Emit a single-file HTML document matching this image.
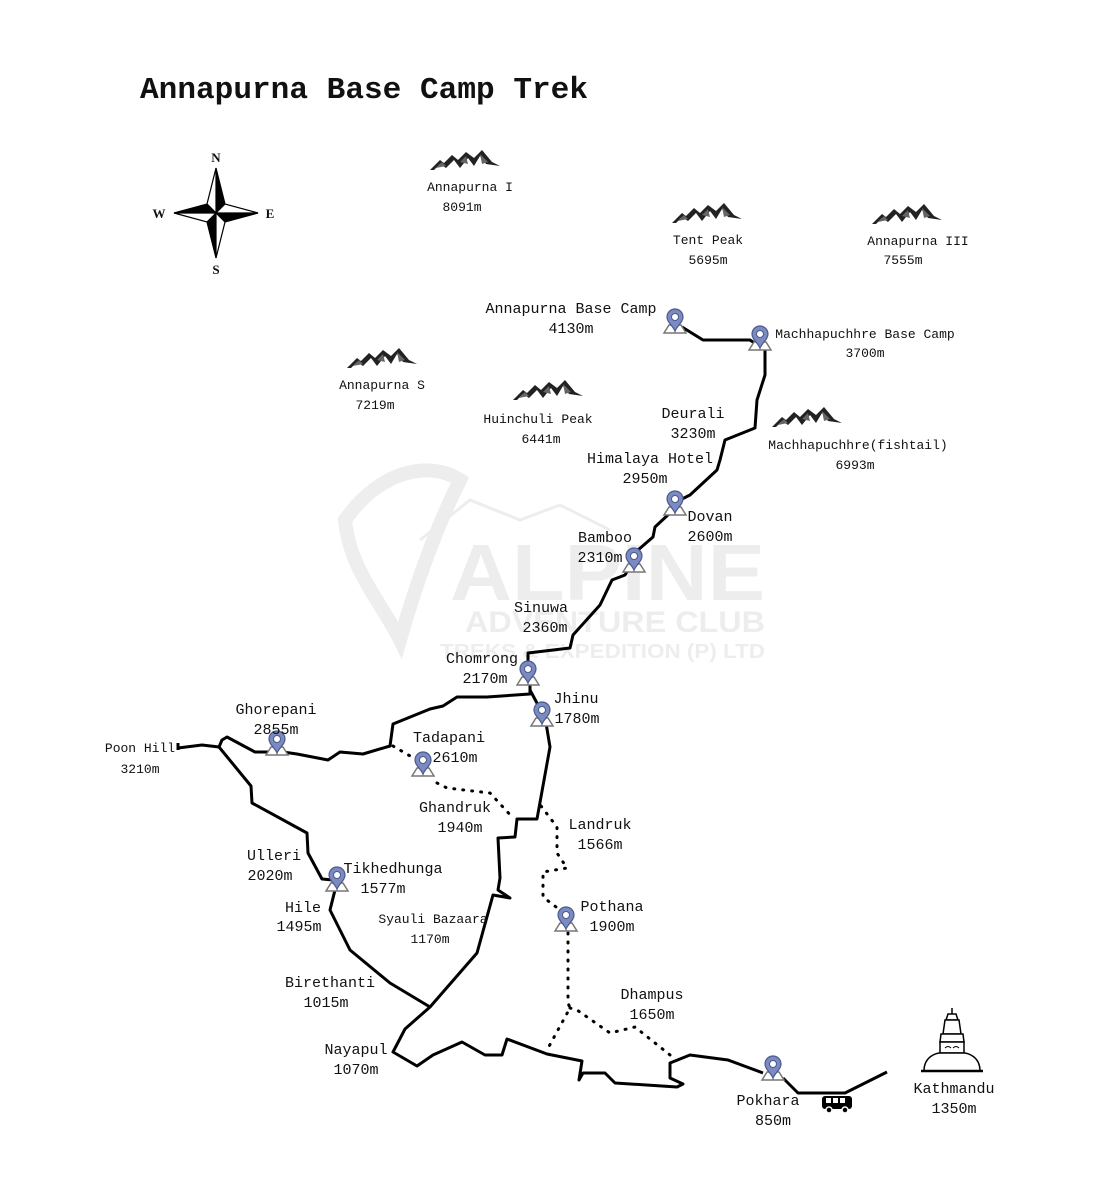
<!DOCTYPE html>
<html><head><meta charset="utf-8"><style>
html,body{margin:0;padding:0;background:#fff;}
svg{display:block;}
text{font-family:"Liberation Mono","DejaVu Sans Mono",monospace;fill:#111;}
.l{font-size:15px;text-anchor:middle;}
.s{font-size:13px;text-anchor:middle;}
</style></head><body>
<svg width="1100" height="1200" viewBox="0 0 1100 1200" xmlns="http://www.w3.org/2000/svg">
<defs>
<g id="pin">
<path d="M-11,12 L-6,4 L6,4 L11,12 Z" fill="#fff" stroke="#777" stroke-width="1.5"/>
<line x1="0" y1="4" x2="0" y2="12" stroke="#777" stroke-width="1.2"/>
<path d="M0,10 C-3,4 -8,1 -8,-4 A8,8 0 1 1 8,-4 C8,1 3,4 0,10 Z" fill="#7b8ac0" stroke="#4a5a8c" stroke-width="1.2"/>
<circle cx="0" cy="-4" r="3.5" fill="#fff" stroke="#4a5a8c" stroke-width="1"/>
</g>
<g id="mtn">
<path d="M0,20 L10,10 L14,13 L22,5 L28,10 L36,2 L44,8 L52,0 L62,12 L70,16 L56,14 L50,6 L44,16 L38,8 L30,18 L24,10 L16,18 L10,14 L4,20 Z" fill="#222"/>
<path d="M6,18 L12,12 L16,16 Z M30,12 L36,6 L38,14 Z M50,4 L58,12 L52,14 Z" fill="#666"/>
</g>
</defs>

<!-- watermark -->
<g opacity="0.09">
<path d="M345,520 C380,470 430,460 460,480 C440,520 420,570 400,640 C380,600 350,570 345,520 Z" fill="none" stroke="#444" stroke-width="14"/>
<path d="M420,540 L470,500 L520,520 L560,505 L610,530" fill="none" stroke="#444" stroke-width="3"/>
<text x="450" y="600" textLength="315" lengthAdjust="spacingAndGlyphs" style="font-family:'Liberation Sans',sans-serif;font-weight:bold;font-size:80px;fill:#444">ALPINE</text>
<text x="465" y="632" textLength="300" lengthAdjust="spacingAndGlyphs" style="font-family:'Liberation Sans',sans-serif;font-weight:bold;font-size:30px;fill:#444">ADVENTURE CLUB</text>
<text x="440" y="658" textLength="325" lengthAdjust="spacingAndGlyphs" style="font-family:'Liberation Sans',sans-serif;font-weight:bold;font-size:20px;fill:#444">TREKS &amp; EXPEDITION (P) LTD</text>
</g>

<text x="140" y="98" textLength="448" lengthAdjust="spacingAndGlyphs" style="font-size:31px;font-weight:bold;">Annapurna Base Camp Trek</text>

<!-- compass -->
<g transform="translate(216,213)" stroke="#000" stroke-width="1.2">
<path d="M0,-45 L9,-9 L0,0 Z" fill="#000"/><path d="M0,-45 L-9,-9 L0,0 Z" fill="#fff"/>
<path d="M42,0 L9,9 L0,0 Z" fill="#000"/><path d="M42,0 L9,-9 L0,0 Z" fill="#fff"/>
<path d="M0,45 L-9,9 L0,0 Z" fill="#000"/><path d="M0,45 L9,9 L0,0 Z" fill="#fff"/>
<path d="M-42,0 L-9,-9 L0,0 Z" fill="#000"/><path d="M-42,0 L-9,9 L0,0 Z" fill="#fff"/>
</g>
<g style="font-weight:bold;font-size:13px;" text-anchor="middle">
<text x="216" y="162" style="font-family:'Liberation Serif',serif">N</text>
<text x="216" y="274" style="font-family:'Liberation Serif',serif">S</text>
<text x="159" y="218" style="font-family:'Liberation Serif',serif">W</text>
<text x="270" y="218" style="font-family:'Liberation Serif',serif">E</text>
</g>

<!-- mountains -->
<use href="#mtn" x="430" y="150"/>
<use href="#mtn" x="672" y="203"/>
<use href="#mtn" x="872" y="204"/>
<use href="#mtn" x="347" y="348"/>
<use href="#mtn" x="513" y="380"/>
<use href="#mtn" x="772" y="407"/>

<!-- routes -->
<g fill="none" stroke="#000" stroke-width="3" stroke-linejoin="round">
<polyline points="682,327 703,340 750,340 765,350 765,375 757,400 755,428 725,440 720,460 717,470 690,495 680,500"/>
<polyline points="670,513 655,527 653,537 638,550 634,560 625,575 612,580 600,605 573,635 570,648 528,653 528,668"/>
<polyline points="530,684 530,694 487,697 457,697 443,706 430,709 393,724 390,746 363,754 340,752 328,760 297,754 283,752 255,752 227,737 222,740 219,747 202,745 178,748"/>
<polyline points="530,690 538,705"/>
<polyline points="219,747 251,786 252,803 307,833 308,853 322,879 333,880"/>
<polyline points="335,890 330,910 350,950 390,983 430,1007 405,1029 393,1052 417,1066 433,1055 462,1042 485,1055 502,1055 507,1039 547,1054 582,1061 579,1080 583,1073 605,1073 615,1083 677,1087 683,1084 670,1078 670,1063 690,1055 728,1060 763,1073"/>
<polyline points="783,1078 798,1093 845,1093 887,1072"/>
<polyline points="430,1007 477,953 493,895 510,898 498,890 500,878 498,838 515,837 517,819 537,819 550,747 546,723"/>
</g>
<line x1="178" y1="743" x2="178" y2="750" stroke="#000" stroke-width="3"/>
<g fill="none" stroke="#000" stroke-width="3" stroke-dasharray="1 8" stroke-linecap="round">
<polyline points="393,746 417,760"/>
<polyline points="437,783 447,788 490,793 513,818"/>
<polyline points="541,806 557,827 557,853 567,868 543,872 543,897 560,910"/>
<polyline points="568,933 568,1003 570,1008 547,1050"/>
<polyline points="570,1008 577,1010 610,1033 635,1027 670,1055"/>
</g>

<!-- pins -->
<use href="#pin" x="675" y="321"/>
<use href="#pin" x="760" y="338"/>
<use href="#pin" x="675" y="503"/>
<use href="#pin" x="634" y="560"/>
<use href="#pin" x="528" y="673"/>
<use href="#pin" x="542" y="714"/>
<use href="#pin" x="277" y="743"/>
<use href="#pin" x="423" y="764"/>
<use href="#pin" x="337" y="879"/>
<use href="#pin" x="566" y="919"/>
<use href="#pin" x="773" y="1068"/>

<!-- bus -->
<g transform="translate(822,1096)">
<rect x="0" y="0" width="30" height="13" rx="3" fill="#000"/>
<rect x="4" y="2" width="5" height="5" fill="#fff"/><rect x="11" y="2" width="5" height="5" fill="#fff"/><rect x="18" y="2" width="5" height="5" fill="#fff"/>
<circle cx="7" cy="14" r="3" fill="#000" stroke="#fff" stroke-width="1.5"/><circle cx="23" cy="14" r="3" fill="#000" stroke="#fff" stroke-width="1.5"/>
</g>

<!-- stupa -->
<g transform="translate(952,1008)" stroke="#000" fill="#fff" stroke-width="1.5">
<line x1="0" y1="0" x2="0" y2="6"/>
<path d="M-4,6 L4,6 L6,12 L-6,12 Z"/>
<path d="M-7,12 L7,12 L9,26 L-9,26 Z"/>
<path d="M-11,26 L11,26 L12,34 L-12,34 Z"/>
<rect x="-12" y="34" width="24" height="11"/>
<path d="M-7,40 Q-4,37 -1,40 M1,40 Q4,37 7,40" stroke-width="1"/>
<path d="M-28,63 C-28,48 -15,45 -12,45 L12,45 C15,45 28,48 28,63 Z"/>
<line x1="-31" y1="63" x2="31" y2="63" stroke-width="2.5"/>
</g>

<!-- labels -->
<text class="s" x="470" y="191">Annapurna I</text><text class="s" x="462" y="211">8091m</text>
<text class="s" x="708" y="244">Tent Peak</text><text class="s" x="708" y="264">5695m</text>
<text class="s" x="918" y="245">Annapurna III</text><text class="s" x="903" y="264">7555m</text>
<text class="s" x="382" y="389">Annapurna S</text><text class="s" x="375" y="409">7219m</text>
<text class="s" x="538" y="423">Huinchuli Peak</text><text class="s" x="541" y="443">6441m</text>
<text class="s" x="858" y="449">Machhapuchhre(fishtail)</text><text class="s" x="855" y="469">6993m</text>
<text class="l" x="571" y="313">Annapurna Base Camp</text><text class="l" x="571" y="333">4130m</text>
<text class="s" x="865" y="338">Machhapuchhre Base Camp</text><text class="s" x="865" y="357">3700m</text>
<text class="l" x="693" y="418">Deurali</text><text class="l" x="693" y="438">3230m</text>
<text class="l" x="650" y="463">Himalaya Hotel</text><text class="l" x="645" y="483">2950m</text>
<text class="l" x="710" y="521">Dovan</text><text class="l" x="710" y="541">2600m</text>
<text class="l" x="605" y="542">Bamboo</text><text class="l" x="600" y="562">2310m</text>
<text class="l" x="541" y="612">Sinuwa</text><text class="l" x="545" y="632">2360m</text>
<text class="l" x="482" y="663">Chomrong</text><text class="l" x="485" y="683">2170m</text>
<text class="l" x="576" y="703">Jhinu</text><text class="l" x="577" y="723">1780m</text>
<text class="l" x="276" y="714">Ghorepani</text><text class="l" x="276" y="734">2855m</text>
<text class="s" x="140" y="752">Poon Hill</text><text class="s" x="140" y="773">3210m</text>
<text class="l" x="449" y="742">Tadapani</text><text class="l" x="455" y="762">2610m</text>
<text class="l" x="455" y="812">Ghandruk</text><text class="l" x="460" y="832">1940m</text>
<text class="l" x="600" y="829">Landruk</text><text class="l" x="600" y="849">1566m</text>
<text class="l" x="274" y="860">Ulleri</text><text class="l" x="270" y="880">2020m</text>
<text class="l" x="393" y="873">Tikhedhunga</text><text class="l" x="383" y="893">1577m</text>
<text class="l" x="303" y="912">Hile</text><text class="l" x="299" y="931">1495m</text>
<text class="s" x="433" y="923">Syauli Bazaara</text><text class="s" x="430" y="943">1170m</text>
<text class="l" x="612" y="911">Pothana</text><text class="l" x="612" y="931">1900m</text>
<text class="l" x="330" y="987">Birethanti</text><text class="l" x="326" y="1007">1015m</text>
<text class="l" x="652" y="999">Dhampus</text><text class="l" x="652" y="1019">1650m</text>
<text class="l" x="356" y="1054">Nayapul</text><text class="l" x="356" y="1074">1070m</text>
<text class="l" x="768" y="1105">Pokhara</text><text class="l" x="773" y="1125">850m</text>
<text class="l" x="954" y="1093">Kathmandu</text><text class="l" x="954" y="1113">1350m</text>
</svg>
</body></html>
